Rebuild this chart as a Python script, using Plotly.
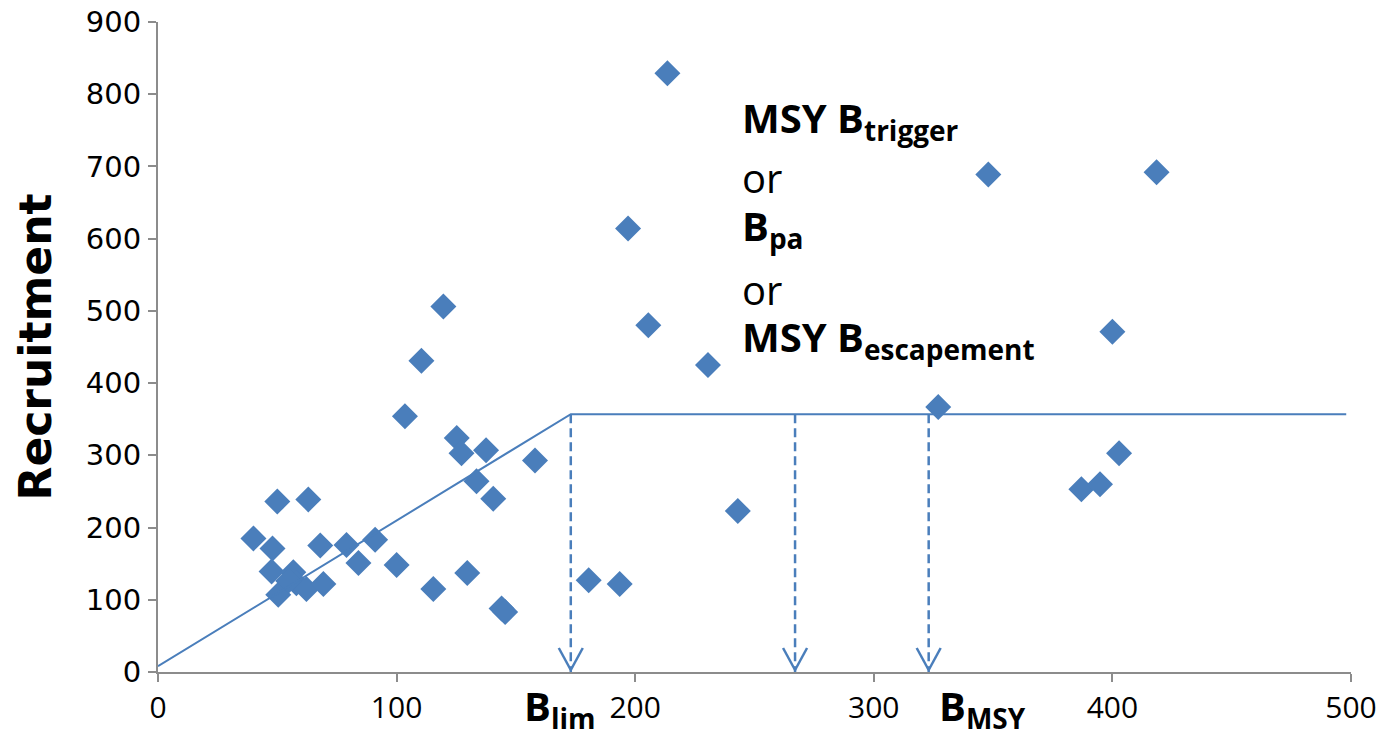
import plotly.graph_objects as go

# ---- data ----
ssb = [40, 48, 50, 63, 68, 79, 84, 91, 100, 47.6, 56.7, 58, 50.4, 62.2, 69.3, 54.6,
       103.5, 110.4, 119.6, 125.2, 127.2, 137.5, 133.5, 140.5, 158, 115.4, 129.6, 144, 145.5,
       180.5, 193.5, 197, 205.5, 213.5, 230.5, 243, 327, 348, 400, 402.8, 387, 394.8, 418.5]
recruitment = [185, 171, 236, 239, 175, 176, 151, 183, 148, 139, 138, 123, 107, 115, 122, 126,
               354, 431, 506, 324, 303, 307, 264, 240, 293, 115, 137, 88, 83,
               127, 122, 614, 480, 829, 425, 223, 367, 689, 471, 303, 253, 260, 692]

hockey_x = [0, 173, 498]
hockey_y = [8, 357, 357]

ref_points = [173, 267, 323]   # Blim, MSY Btrigger/Bpa/MSY Bescapement, BMSY
ref_level = 357

x_tick_vals = [0, 100, 200, 300, 400, 500]
x_tick_text = ["0", "100", "200", "300", "400", "500"]
y_tick_vals = [0, 100, 200, 300, 400, 500, 600, 700, 800, 900]
y_tick_text = ["0", "100", "200", "300", "400", "500", "600", "700", "800", "900"]

BLUE = "#4A7EBB"
GREY = "#8C8C8C"

fig = go.Figure()

fig.add_trace(go.Scatter(
    x=ssb, y=recruitment, mode="markers",
    marker=dict(symbol="diamond", size=20, color=BLUE, line=dict(width=0)),
    hoverinfo="x+y"))

fig.add_trace(go.Scatter(
    x=hockey_x, y=hockey_y, mode="lines",
    line=dict(color=BLUE, width=2)))

dash_x, dash_y = [], []
for xv in ref_points:
    dash_x += [xv, xv, None]
    dash_y += [ref_level, 0, None]
fig.add_trace(go.Scatter(
    x=dash_x, y=dash_y, mode="lines", connectgaps=False,
    line=dict(color=BLUE, width=2.5, dash="9px,5px")))

# open arrow heads at the bottom of the dashed lines
for xv in ref_points:
    for side in (-1, 1):
        fig.add_shape(type="line", xref="x", yref="y",
                      xsizemode="pixel", ysizemode="pixel",
                      xanchor=xv, yanchor=0,
                      x0=side * 12, y0=24, x1=0, y1=2,
                      line=dict(color=BLUE, width=2.5))

ann_font_b = dict(family="Open Sans", size=40, color="black", weight="bold")
ann_font_r = dict(family="Open Sans", size=40, color="black")

labels = [
    ("MSY B<sub>trigger</sub>", 765, ann_font_b),
    ("or", 685, ann_font_r),
    ("B<sub>pa</sub>", 615, ann_font_b),
    ("or", 530, ann_font_r),
    ("MSY B<sub>escapement</sub>", 462, ann_font_b),
]
for txt, yv, f in labels:
    fig.add_annotation(x=244, y=yv, xref="x", yref="y", text=txt, showarrow=False,
                       xanchor="left", yanchor="middle", font=f)

fig.add_annotation(x=152.5, y=-0.054, xref="x", yref="paper", text="B<sub>lim</sub>",
                   showarrow=False, xanchor="left", yanchor="middle", font=ann_font_b)
fig.add_annotation(x=326.5, y=-0.054, xref="x", yref="paper", text="B<sub>MSY</sub>",
                   showarrow=False, xanchor="left", yanchor="middle", font=ann_font_b)

axis_common = dict(showline=True, linecolor=GREY, linewidth=2, ticks="outside",
                   ticklen=8, tickwidth=2, tickcolor=GREY, showgrid=False,
                   zeroline=False, mirror=False, automargin=False,
                   ticklabeloverflow="allow")

fig.update_xaxes(range=[0, 500], tickmode="array", tickvals=x_tick_vals,
                 ticktext=x_tick_text,
                 tickfont=dict(family="Open Sans", size=30, color="black"),
                 ticklabelstandoff=0, **axis_common)
fig.update_yaxes(range=[0, 900], tickmode="array", tickvals=y_tick_vals,
                 ticktext=y_tick_text,
                 tickfont=dict(family="DejaVu Sans", size=29, color="black"),
                 ticklabelstandoff=1,
                 title=dict(text="Recruitment", standoff=20,
                            font=dict(family="DejaVu Sans", size=44, color="black", weight="bold")),
                 **axis_common)

fig.update_layout(width=1383, height=736, showlegend=False,
                  margin=dict(l=158, r=32, t=22, b=64),
                  paper_bgcolor="white", plot_bgcolor="white")

# remove the browser's default 8px body margin so the figure fills the window exactly
fig.write_html("out.html",
               config={"displayModeBar": False},
               post_script="document.body.style.margin='0px';document.body.style.overflow='hidden';")
